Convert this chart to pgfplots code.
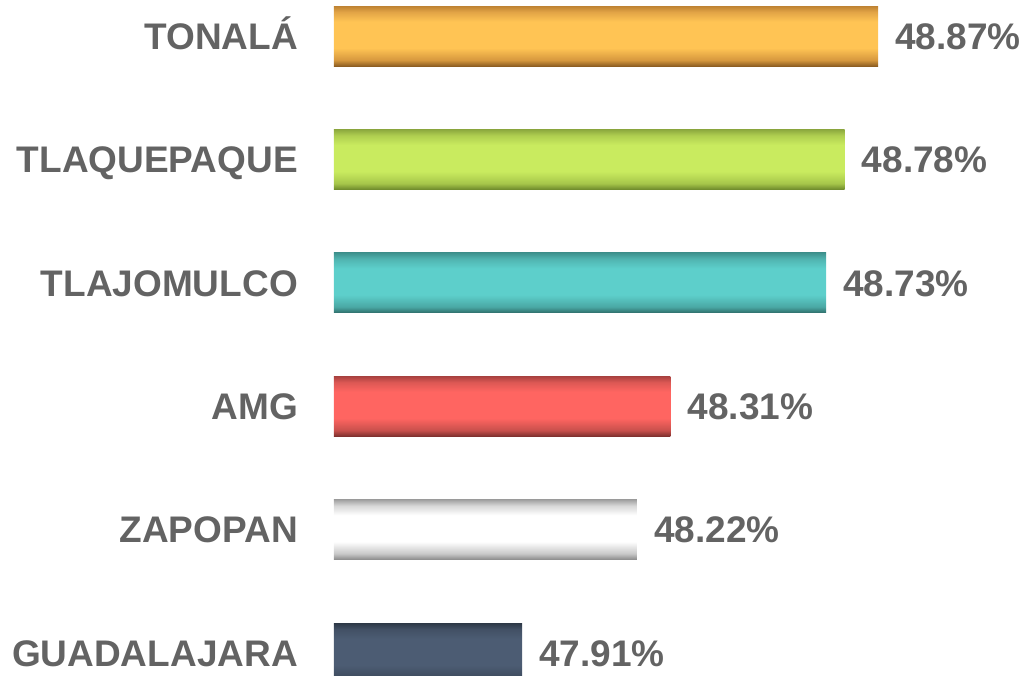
\documentclass[border=0pt]{standalone}
\usepackage{pgfplots}
\pgfplotsset{compat=1.18}
\usepackage{fontspec}
\setmainfont{Liberation Sans}
\definecolor{txt}{HTML}{636363}
% cylinder-like vertical shadings (bottom -> top)
\pgfdeclareverticalshading{cylorange}{100bp}{color(0bp)=(rgb,255:red,142;green,94;blue,34); color(25bp)=(rgb,255:red,142;green,94;blue,34); color(30bp)=(rgb,255:red,214;green,152;blue,62); color(40bp)=(rgb,255:red,255;green,196;blue,84); color(62bp)=(rgb,255:red,255;green,196;blue,84); color(70bp)=(rgb,255:red,226;green,164;blue,70); color(75bp)=(rgb,255:red,190;green,130;blue,50); color(100bp)=(rgb,255:red,190;green,130;blue,50)}
\pgfdeclareverticalshading{cylgreen}{100bp}{color(0bp)=(rgb,255:red,110;green,138;blue,44); color(25bp)=(rgb,255:red,110;green,138;blue,44); color(30bp)=(rgb,255:red,166;green,198;blue,74); color(40bp)=(rgb,255:red,201;green,235;blue,95); color(62bp)=(rgb,255:red,201;green,235;blue,95); color(70bp)=(rgb,255:red,175;green,206;blue,80); color(75bp)=(rgb,255:red,140;green,168;blue,62); color(100bp)=(rgb,255:red,140;green,168;blue,62)}
\pgfdeclareverticalshading{cylteal}{100bp}{color(0bp)=(rgb,255:red,47;green,110;blue,107); color(25bp)=(rgb,255:red,47;green,110;blue,107); color(30bp)=(rgb,255:red,74;green,168;blue,164); color(40bp)=(rgb,255:red,93;green,207;blue,203); color(62bp)=(rgb,255:red,93;green,207;blue,203); color(70bp)=(rgb,255:red,80;green,180;blue,176); color(75bp)=(rgb,255:red,62;green,146;blue,142); color(100bp)=(rgb,255:red,62;green,146;blue,142)}
\pgfdeclareverticalshading{cylred}{100bp}{color(0bp)=(rgb,255:red,126;green,48;blue,46); color(25bp)=(rgb,255:red,126;green,48;blue,46); color(30bp)=(rgb,255:red,200;green,80;blue,76); color(40bp)=(rgb,255:red,255;green,101;blue,97); color(62bp)=(rgb,255:red,255;green,101;blue,97); color(70bp)=(rgb,255:red,220;green,88;blue,84); color(75bp)=(rgb,255:red,168;green,65;blue,63); color(100bp)=(rgb,255:red,168;green,65;blue,63)}
\pgfdeclareverticalshading{cylwhite}{100bp}{color(0bp)=(rgb,255:red,138;green,138;blue,138); color(25bp)=(rgb,255:red,138;green,138;blue,138); color(30bp)=(rgb,255:red,200;green,200;blue,200); color(40bp)=(rgb,255:red,255;green,255;blue,255); color(62bp)=(rgb,255:red,255;green,255;blue,255); color(70bp)=(rgb,255:red,215;green,215;blue,215); color(75bp)=(rgb,255:red,160;green,160;blue,160); color(100bp)=(rgb,255:red,160;green,160;blue,160)}
\pgfdeclareverticalshading{cyldark}{100bp}{color(0bp)=(rgb,255:red,42;green,51;blue,64); color(25bp)=(rgb,255:red,42;green,51;blue,64); color(30bp)=(rgb,255:red,62;green,76;blue,95); color(40bp)=(rgb,255:red,76;green,92;blue,115); color(62bp)=(rgb,255:red,76;green,92;blue,115); color(70bp)=(rgb,255:red,66;green,80;blue,100); color(75bp)=(rgb,255:red,45;green,56;blue,70); color(100bp)=(rgb,255:red,45;green,56;blue,70)}
\begin{document}
\begin{tikzpicture}
\begin{axis}[
  scale only axis,
  width=695pt, height=675pt,
  xmin=0, xmax=1.874,
  ymin=-0.178, ymax=5.292,
  x filter/.expression={x-47.403},
  axis line style={draw=none},
  xtick=\empty,
  ytick={0,1,2,3,4,5},
  yticklabels={GUADALAJARA,ZAPOPAN,AMG,TLAJOMULCO,TLAQUEPAQUE,TONALÁ},
  major tick length=0pt,
  ytick style={draw=none},
  yticklabel style={font=\fontsize{37}{37}\selectfont\bfseries, text=txt, inner sep=0pt, anchor=east, xshift=-36pt, text height=26.6pt, text depth=0pt},
  point meta=explicit,
  nodes near coords={\pgfmathprintnumber[fixed,fixed zerofill,precision=2,assume math mode=true]{\pgfplotspointmeta}\%},
  every node near coord/.append style={anchor=west, inner sep=0pt, xshift=17pt, font=\fontsize{37}{37}\selectfont\bfseries, text=txt, text height=26.6pt, text depth=0pt},
  bar width=60pt,
]
\addplot[xbar, bar shift=0pt, draw=none, shading=cylorange, shade] coordinates {(48.87,5) [48.87]};
\addplot[xbar, bar shift=0pt, draw=none, shading=cylgreen, shade] coordinates {(48.78,4) [48.78]};
\addplot[xbar, bar shift=0pt, draw=none, shading=cylteal, shade] coordinates {(48.73,3) [48.73]};
\addplot[xbar, bar shift=0pt, draw=none, shading=cylred, shade] coordinates {(48.31,2) [48.31]};
\addplot[xbar, bar shift=0pt, draw=none, shading=cylwhite, shade] coordinates {(48.22,1) [48.22]};
\addplot[xbar, bar shift=0pt, draw=none, shading=cyldark, shade] coordinates {(47.91,0) [47.91]};
\end{axis}
\pgfresetboundingbox
\path[use as bounding box] ([xshift=-334pt]current axis.south west) rectangle (current axis.north east);
\end{tikzpicture}
\end{document}
